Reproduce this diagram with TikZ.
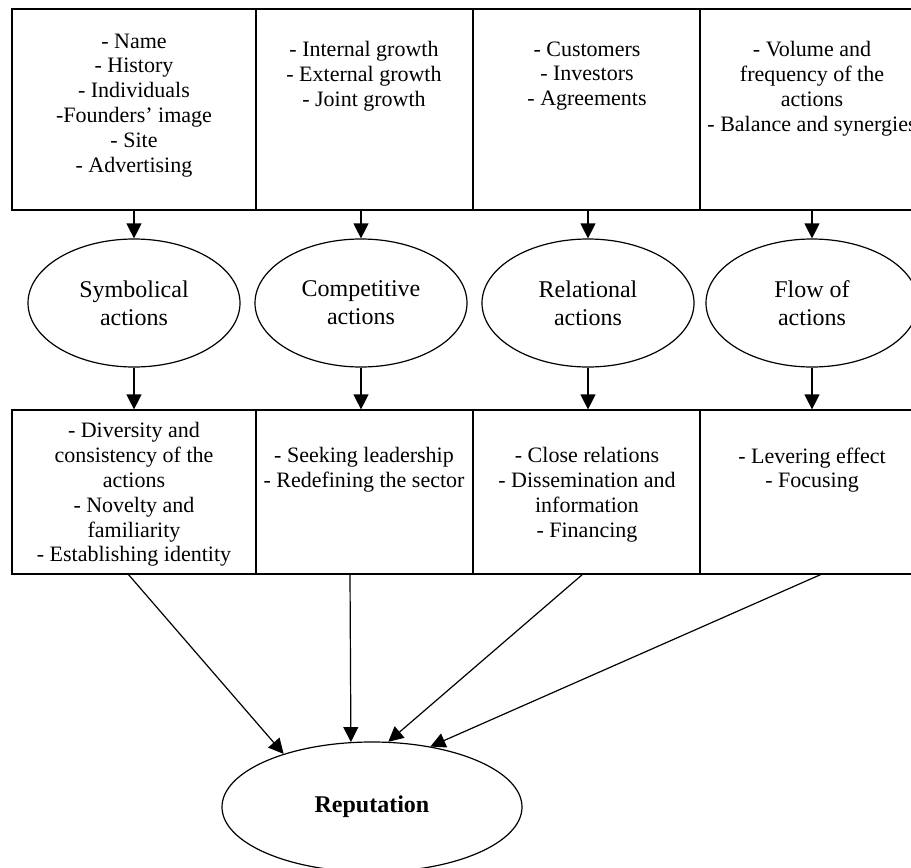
\documentclass[tikz,border=0pt]{standalone}
\usepackage{fontspec}
\setmainfont{Liberation Serif}
\usetikzlibrary{arrows.meta,shapes.geometric}

\begin{document}
\begin{tikzpicture}[x=0.5pt,y=-0.5pt,line width=0.6pt,color=black,
    >={Triangle[length=7.5pt,width=7.5pt]},
    box/.style={draw,rectangle,inner sep=0pt},
    txt/.style={anchor=north,align=center,inner sep=0pt,font=\fontsize{11}{12.4}\selectfont},
    act/.style={draw,ellipse,inner sep=0pt,minimum width=106pt,minimum height=64pt,align=center,font=\fontsize{12}{14}\selectfont}]
            \useasboundingbox (0,0) rectangle (911,868);
            \clip (0,0) rectangle (911,868);
            \node[box,minimum width=122pt,minimum height=100.5pt] (a1) at (134,109.5){};
            \node[box,minimum width=108.5pt,minimum height=100.5pt] (a2) at (364.5,109.5){};
            \node[box,minimum width=113.5pt,minimum height=100.5pt] (a3) at (586.5,109.5){};
            \node[box,minimum width=112pt,minimum height=100.5pt] (a4) at (812,109.5){};
            \node[txt] (ta1) at (134,33){- Name\\ - History\\ - Individuals\\ -Founders' image\\ - Site\\ - Advertising};
            \node[txt] (ta2) at (364,41){- Internal growth\\ - External growth\\ - Joint growth};
            \node[txt] (ta3) at (587,41){- Customers\\ - Investors\\ - Agreements};
            \node[txt] (ta4) at (812,41){- Volume and\\ frequency of the\\ actions\\ - Balance and synergies};
            \node[act] (e1) at (134,303){Symbolical\\ actions};
            \node[act] (e2) at (361,303){Competitive\\ actions};
            \node[act] (e3) at (588,303){Relational\\ actions};
            \node[act] (e4) at (812,303){Flow of\\ actions};
            \node[box,minimum width=122pt,minimum height=82pt] (b1) at (134,492){};
            \node[box,minimum width=108.5pt,minimum height=82pt] (b2) at (364.5,492){};
            \node[box,minimum width=113.5pt,minimum height=82pt] (b3) at (586.5,492){};
            \node[box,minimum width=112pt,minimum height=82pt] (b4) at (812,492){};
            \node[txt] (tb1) at (134,422){- Diversity and\\ consistency of the\\ actions\\ - Novelty and\\ familiarity\\ - Establishing identity};
            \node[txt] (tb2) at (364,447){- Seeking leadership\\ - Redefining the sector};
            \node[txt] (tb3) at (587,447){- Close relations\\ - Dissemination and\\ information\\ - Financing};
            \node[txt] (tb4) at (812,447){- Levering effect\\ - Focusing};
            \node[draw,ellipse,inner sep=0pt,minimum width=150pt,minimum height=65pt,font=\fontsize{12}{14}\selectfont\bfseries] (r) at (372,807){Reputation};
            \coordinate (s1) at (128,574);
            \coordinate (s2) at (350,574);
            \coordinate (s3) at (583,574);
            \coordinate (s4) at (822,574);
            \draw[->] (e1 |- a1.south) -- (e1);
            \draw[->] (e2 |- a2.south) -- (e2);
            \draw[->] (e3 |- a3.south) -- (e3);
            \draw[->] (e4 |- a4.south) -- (e4);
            \draw[->] (e1) -- (e1 |- b1.north);
            \draw[->] (e2) -- (e2 |- b2.north);
            \draw[->] (e3) -- (e3 |- b3.north);
            \draw[->] (e4) -- (e4 |- b4.north);
            \draw[->] (s1) -- (r.149);
            \draw[->] (s2) -- (r.108);
            \draw[->] (s3) -- (r.76);
            \draw[->] (s4) -- (r.46);
		\end{tikzpicture}
\end{document}
